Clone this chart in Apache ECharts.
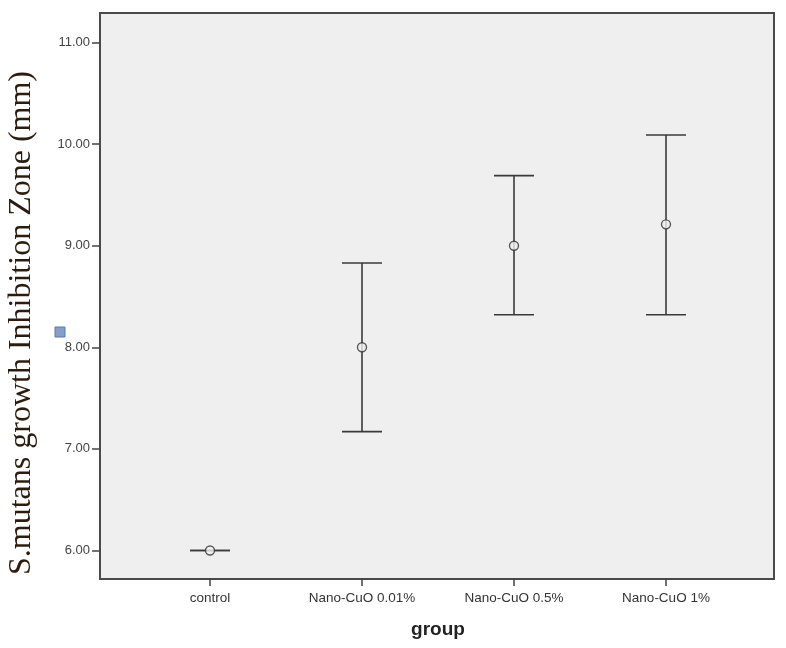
<!DOCTYPE html>
<html>
<head>
<meta charset="utf-8">
<script src="https://cdn.jsdelivr.net/npm/echarts@6/dist/echarts.min.js"></script>
<style>
	html,body{margin:0;padding:0;background:#fff;}
	#chart{width:786px;height:648px;}
</style>
</head>
<body>
<div id="chart"></div>
<script>
// groups and error bar values (mm)
var groups=['control','Nano-CuO 0.01%','Nano-CuO 0.5%','Nano-CuO 1%'];
var means=[6.00,8.00,9.00,9.21];
var lower=[6.00,7.17,8.32,8.32];
var upper=[6.00,8.83,9.69,10.09];
var yTicks=[6,7,8,9,10,11];

var chart=echarts.init(document.getElementById('chart'));

var barData=[],meanData=[];
for(var i=0;i<groups.length;i++){
	barData.push([i,lower[i],upper[i]]);
	meanData.push([i,means[i]]);
}

function renderBar(params,api){
	var x=api.value(0);
	var lo=api.coord([x,api.value(1)]);
	var hi=api.coord([x,api.value(2)]);
	var half=20;
	var style={stroke:'#3a3a3a',lineWidth:1.6};
	var kids=[
		{type:'line',shape:{x1:lo[0]-half,y1:lo[1],x2:lo[0]+half,y2:lo[1]},style:style},
		{type:'line',shape:{x1:hi[0]-half,y1:hi[1],x2:hi[0]+half,y2:hi[1]},style:style}
	];
	if(hi[1]!=lo[1]){
		kids.push({type:'line',shape:{x1:lo[0],y1:lo[1],x2:hi[0],y2:hi[1]},style:style});
	}
	return {type:'group',children:kids};
}

var option={
	backgroundColor:'#ffffff',
	animation:false,
	textStyle:{fontFamily:'Liberation Sans'},
	grid:[
		// frame of the plot
		{left:100,right:12,top:13,bottom:69,show:true,backgroundColor:'#efefef',borderColor:'#4a4a4a',borderWidth:2,outerBoundsMode:'none',containLabel:false},
		// data area
		{left:134,right:44,top:42.5,bottom:97.5,outerBoundsMode:'none',containLabel:false}
	],
	xAxis:[
		{gridIndex:0,type:'value',show:false,min:0,max:1},
		{
			gridIndex:1,
			type:'category',
			data:groups,
			offset:28.5,
			axisLine:{show:false},
			axisTick:{show:true,alignWithLabel:true,length:7,lineStyle:{color:'#444',width:1.5}},
			axisLabel:{color:'#333',fontSize:13.5,margin:12,fontFamily:'Liberation Sans'},
			splitLine:{show:false},
			name:'group',
			nameLocation:'middle',
			nameGap:41,
			nameTextStyle:{fontSize:19,fontWeight:'bold',color:'#222',fontFamily:'Liberation Sans'}
		}
	],
	yAxis:[
		{gridIndex:0,type:'value',show:false,min:0,max:1},
		{
			gridIndex:1,
			type:'value',
			min:yTicks[0],
			max:yTicks[yTicks.length-1],
			interval:1,
			offset:34,
			axisLine:{show:false},
			axisTick:{show:true,length:8,inside:false,lineStyle:{color:'#444',width:1.5}},
			axisLabel:{color:'#444',fontSize:13,margin:10,fontFamily:'Liberation Sans',formatter:function(v){return v.toFixed(2);}},
			splitLine:{show:false}
		}
	],
	graphic:[
		{
			type:'text',
			x:22,y:323,
			rotation:Math.PI/2,
			style:{
				text:'S.mutans growth Inhibition Zone (mm)',
				font:'32px "Liberation Serif"',
				fill:'#2a1c0e',
				align:'center',
				verticalAlign:'middle'
			}
		},
		{
			type:'rect',
			shape:{x:55,y:327,width:10,height:10},
			style:{fill:'#849fc8',stroke:'#5b79a6',lineWidth:1}
		}
	],
	series:[
		{
			type:'custom',
			xAxisIndex:1,
			yAxisIndex:1,
			renderItem:renderBar,
			data:barData,
			z:3
		},
		{
			type:'scatter',
			xAxisIndex:1,
			yAxisIndex:1,
			symbol:'circle',
			symbolSize:9,
			itemStyle:{color:'#efefef',borderColor:'#333',borderWidth:1.4},
			data:meanData,
			z:5
		}
	]
};
chart.setOption(option);
</script>
</body>
</html>
